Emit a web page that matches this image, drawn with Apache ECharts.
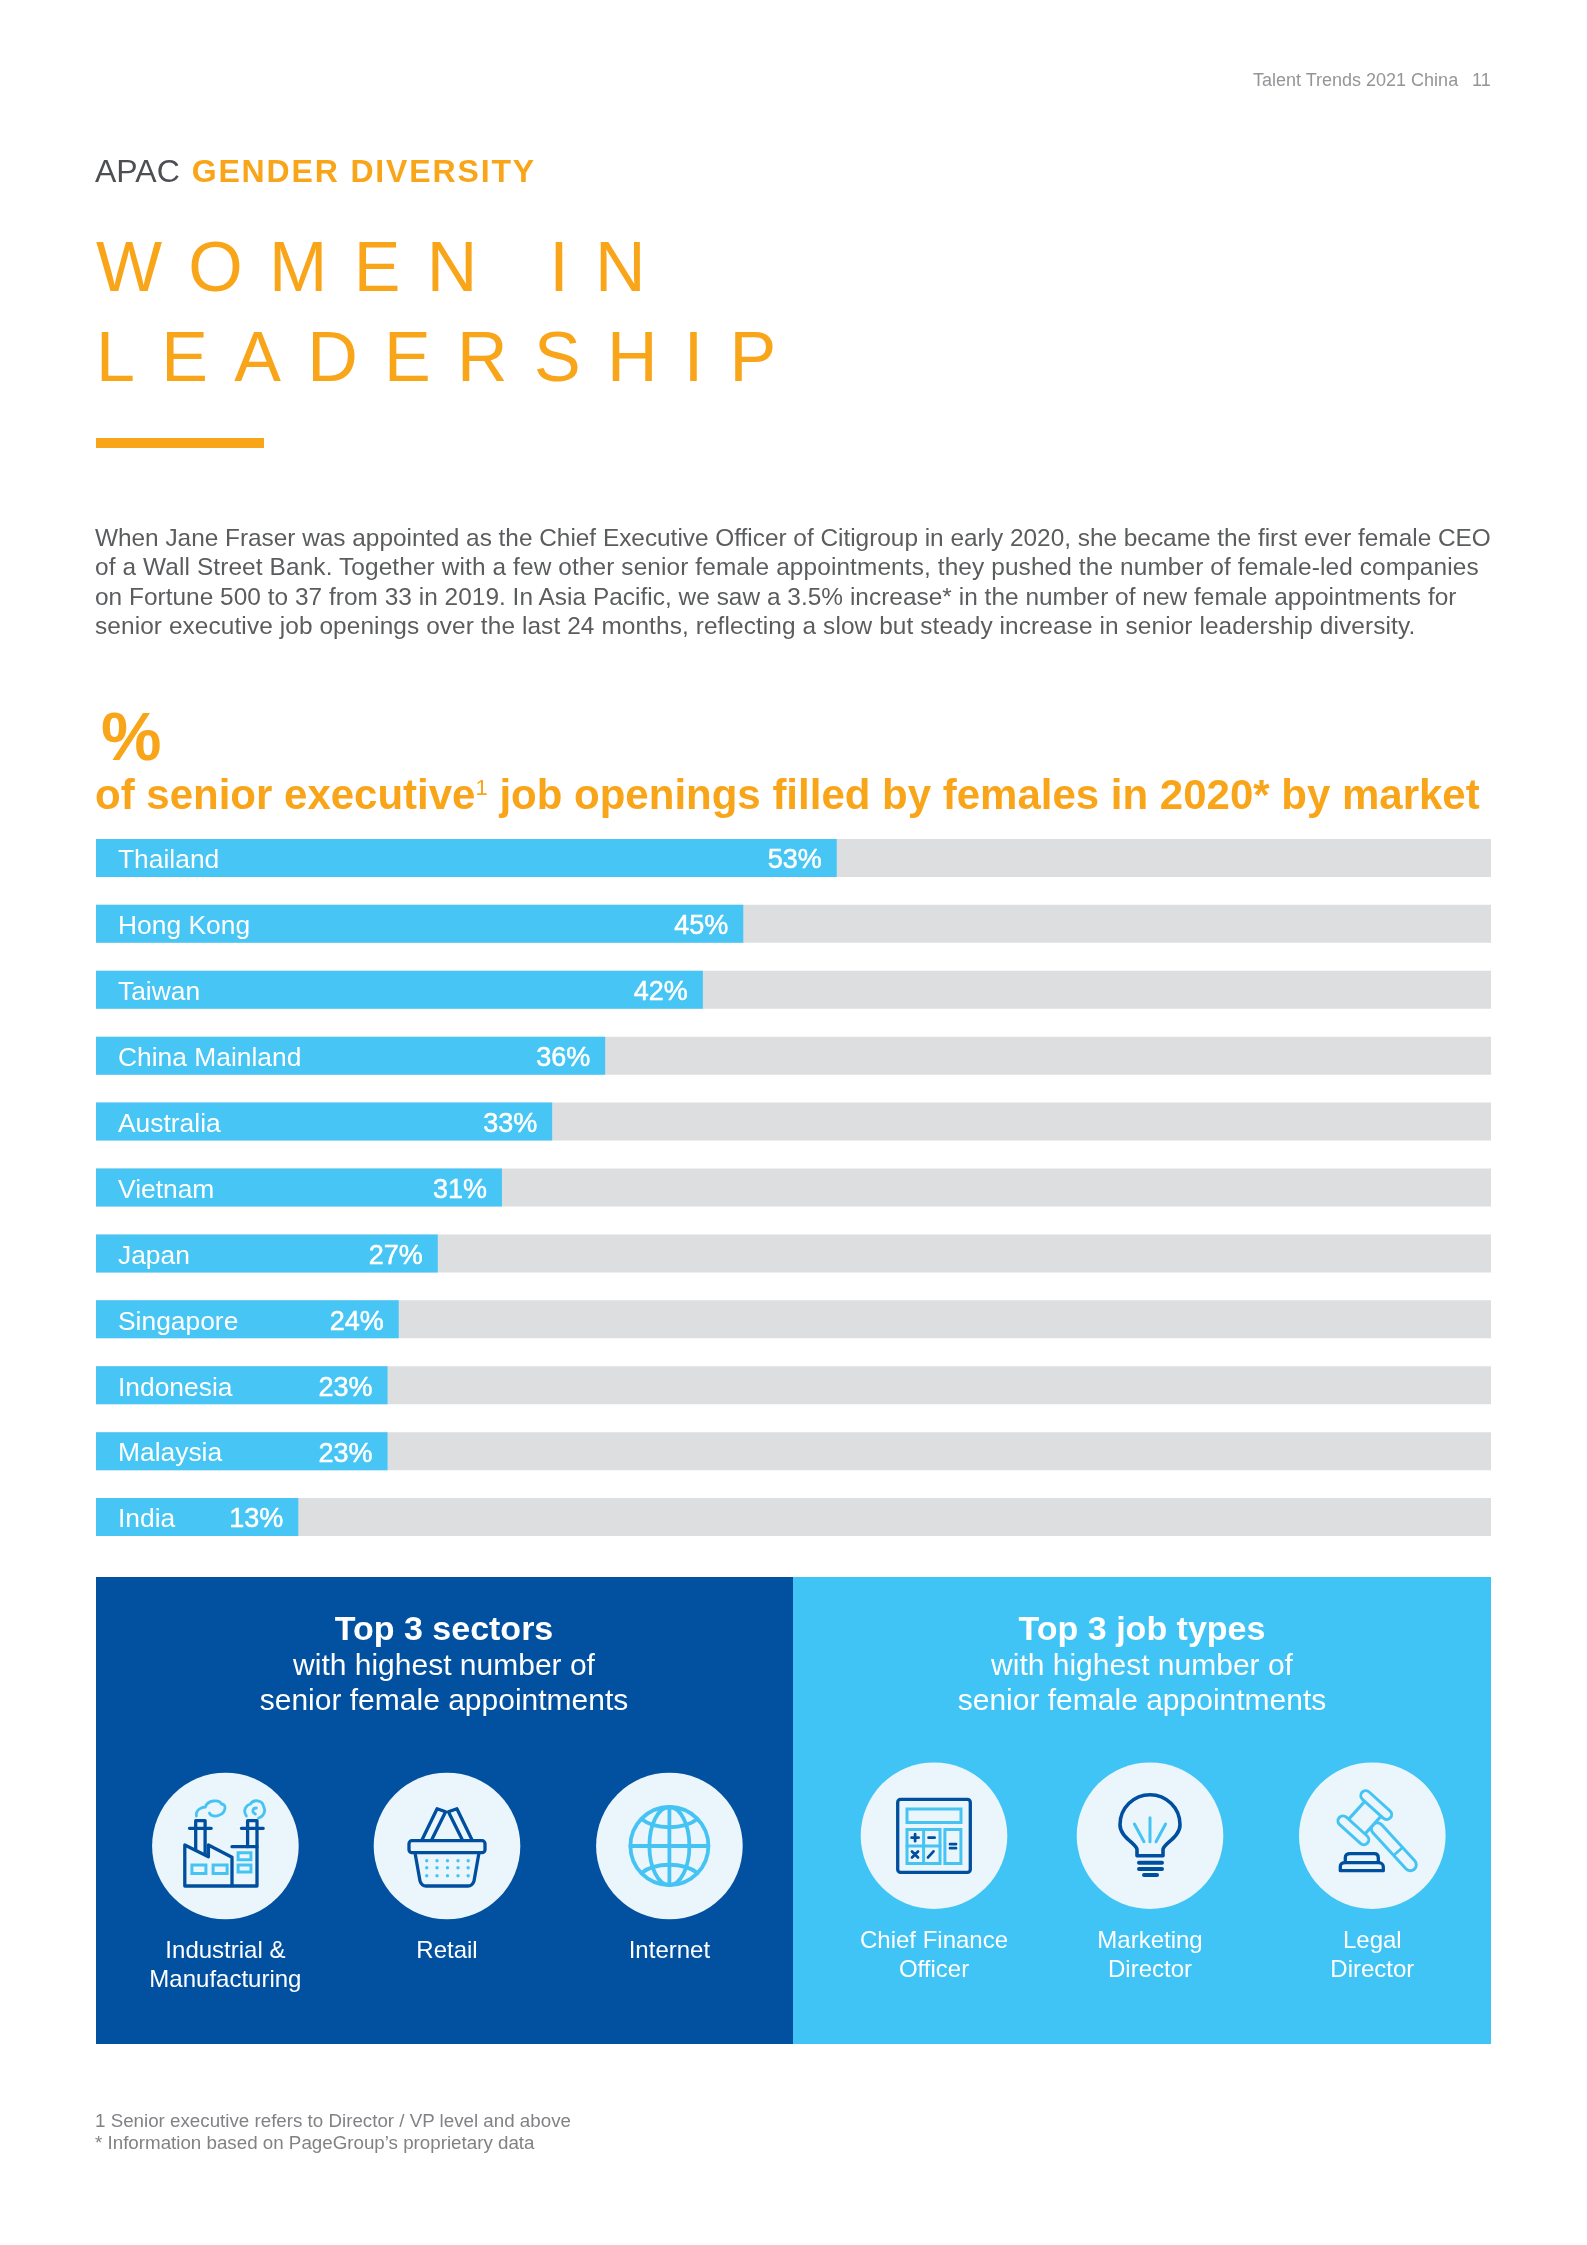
<!DOCTYPE html>
<html>
<head>
<meta charset="utf-8">
<title>Women in Leadership</title>
<script src="https://cdn.jsdelivr.net/npm/echarts@6/dist/echarts.min.js"></script>
<style>
html, body { margin: 0; padding: 0; background: #fff; }
#page { position: relative; width: 1587px; height: 2245px; overflow: hidden; font-family: "Liberation Sans", Arial, sans-serif; }
#chart { position: absolute; left: 0; top: 0; width: 1587px; height: 2245px; }
.t { position: absolute; white-space: nowrap; margin: 0; }
.orange { color: #f9a51a; }
.body { left: 95px; font-size: 24.4px; line-height: 30px; color: #5a5c5e; }
.big { left: 96px; font-size: 70px; line-height: 90px; letter-spacing: 26.3px; color: #f9a51a; }
.note { left: 95px; font-size: 18.75px; line-height: 22px; color: #808285; }
sup { font-size: 22px; font-weight: normal; line-height: 0; vertical-align: 14px; }
</style>
</head>
<body>
<div id="page">
  <div id="chart"></div>
  <div class="t" style="left:1253px;top:69px;font-size:18px;line-height:22px;color:#939598">Talent Trends 2021 China</div>
  <div class="t" style="left:1472px;top:69px;font-size:18px;line-height:22px;color:#939598">11</div>
  <div class="t" style="left:95px;top:152px;font-size:32px;line-height:38px;color:#4d4f53">APAC <b class="orange" style="letter-spacing:1.85px;margin-left:3px">GENDER DIVERSITY</b></div>
  <div class="t big" style="top:222px">WOMEN IN</div>
  <div class="t big" style="top:312px">LEADERSHIP</div>
  <div style="position:absolute;left:96px;top:438px;width:168px;height:10px;background:#f9a51a"></div>
  <div class="t body" style="top:523px;letter-spacing:-0.012px">When Jane Fraser was appointed as the Chief Executive Officer of Citigroup in early 2020, she became the first ever female CEO</div>
  <div class="t body" style="top:552px;letter-spacing:0.117px">of a Wall Street Bank. Together with a few other senior female appointments, they pushed the number of female-led companies</div>
  <div class="t body" style="top:582px;letter-spacing:0.035px">on Fortune 500 to 37 from 33 in 2019. In Asia Pacific, we saw a 3.5% increase* in the number of new female appointments for</div>
  <div class="t body" style="top:611px;letter-spacing:0.1px">senior executive job openings over the last 24 months, reflecting a slow but steady increase in senior leadership diversity.</div>
  <div class="t orange" style="left:101px;top:698px;font-size:68px;line-height:76px;font-weight:bold">%</div>
  <div class="t orange" style="left:95px;top:772px;font-size:42px;line-height:46px;font-weight:bold">of senior executive<sup>1</sup> job openings filled by females in 2020* by market</div>
  <div class="t note" style="top:2110px">1 Senior executive refers to Director / VP level and above</div>
  <div class="t note" style="top:2132px">* Information based on PageGroup’s proprietary data</div>
</div>
<script>
var categories = ['Thailand', 'Hong Kong', 'Taiwan', 'China Mainland', 'Australia', 'Vietnam', 'Japan', 'Singapore', 'Indonesia', 'Malaysia', 'India'];
// the printed labels
var shareLabels = ['53%', '45%', '42%', '36%', '33%', '31%', '27%', '24%', '23%', '23%', '13%'];
// bar lengths (% of the grey track), the printed bars do not quite follow their labels
var barLengths = [53.1, 46.4, 43.5, 36.5, 32.7, 29.1, 24.5, 21.7, 20.9, 20.9, 14.5];

var sectorNames = [['Industrial &', 'Manufacturing'], ['Retail'], ['Internet']];
var jobNames = [['Chief Finance', 'Officer'], ['Marketing', 'Director'], ['Legal', 'Director']];

var FONT = '"Liberation Sans", Arial, sans-serif';
var DARK = '#0251a1';
var LIGHT = '#45c4f4';
var DISC = '#ebf6fc';
var INK = '#004f9f';

// graphic has no plain path type, so every icon stroke gets its own registered shape
var shapeCount = 0;
function line(d, color, w) {
    var name = 'iconPath' + (shapeCount++);
    echarts.graphic.registerShape(name, echarts.graphic.extendPath(d));
    return {
        type: name,
        style: { fill: null, stroke: color, lineWidth: w || 3, lineCap: 'round', lineJoin: 'round' }
    };
}

function capsule(d, outer, inner) {
    return [line(d, LIGHT, outer), line(d, DISC, inner)];
}

function box(x, y, w, h, color, lw, r) {
    return {
        type: 'rect',
        shape: { x: x, y: y, width: w, height: h, r: r || 0 },
        style: { fill: null, stroke: color, lineWidth: lw || 3 }
    };
}

function factoryIcon() {
    return [
        line('M-29,-30 C-30,-36 -24,-39 -20,-39 C-18,-46 -6,-47 -4,-42 C2,-42 0,-33 -6,-31 C-10,-29 -15,-30 -16,-33', LIGHT, 2.8),
        line('M21,-30 C17,-36 21,-41 25,-42 C28,-47 37,-46 38,-40 C41,-35 38,-29 33,-28 M30,-32 C26,-34 27,-38 31,-38', LIGHT, 2.8),
        box(-33.5, 19, 14, 8.5, LIGHT), box(-12.3, 19, 14, 8.5, LIGHT),
        box(12.7, 6.7, 12.8, 7, LIGHT), box(12.7, 19, 12.8, 7, LIGHT),
        line('M-40.6,40 L-40.6,-1 L-17,10.7 L-17,-1 L6.6,11.3 L6.6,40 Z M6.6,0.7 L31.6,0.7 L31.6,40 L6.6,40', INK, 3.3),
        line('M-29.7,4 L-29.7,-25.3 L-20.3,-25.3 L-20.3,8 M22.2,0.7 L22.2,-25.3 L31.6,-25.3 L31.6,0.7', INK, 3.3),
        line('M-35.9,-17.7 L-14.2,-17.7 M16,-17.7 L37.8,-17.7', INK, 3.3)
    ];
}

function basketIcon() {
    var parts = [
        line('M-9.9,-37.3 L-1.4,-34.3 L-17.9,-1 L-26.4,-3.3 Z M9.9,-37.3 L1.4,-34.3 L17.9,-1 L26.4,-3.3 Z', INK, 3.3),
        { type: 'rect', shape: { x: -38, y: -5.3, width: 76, height: 12, r: 3 }, style: { fill: DISC, stroke: INK, lineWidth: 3.3 } },
        line('M-32,6.7 L-27,35 C-26,38 -24,40 -21,40 L21,40 C24,40 26,38 27,35 L32,6.7', INK, 3.3)
    ];
    [14.7, 21.7, 29.7].forEach(function (dy) {
        [-20.3, -10, 0.5, 11, 21.2].forEach(function (dx) {
            parts.push({ type: 'circle', shape: { cx: dx, cy: dy, r: 1.7 }, style: { fill: LIGHT } });
        });
    });
    return parts;
}

function globeIcon() {
    return [
        { type: 'circle', shape: { cx: 0, cy: 0, r: 39 }, style: { fill: null, stroke: LIGHT, lineWidth: 3.8 } },
        { type: 'ellipse', shape: { cx: 0, cy: 0, rx: 20, ry: 39 }, style: { fill: null, stroke: LIGHT, lineWidth: 3.8 } },
        line('M0,-39 L0,39 M-39,0 L39,0', LIGHT, 3.8),
        line('M-28,-27 C-14,-16 14,-16 28,-27 M-28,27 C-14,16 14,16 28,27', LIGHT, 3.8)
    ];
}

function calculatorIcon() {
    return [
        box(-27, -26.7, 54, 13.4, LIGHT),
        box(-27, -6.3, 33, 34, LIGHT),
        line('M-10.4,-6.3 L-10.4,27.7 M-27,10.3 L6,10.3', LIGHT, 3),
        box(10.9, -6.3, 16, 34, LIGHT),
        box(-36.3, -36.3, 72.6, 73, INK, 3.3, 3),
        line('M-22.4,2 L-15.4,2 M-18.9,-1.5 L-18.9,5.5 M-5.4,2 L0.6,2', INK, 2.8),
        line('M-22,15.7 L-16,21.7 M-16,15.7 L-22,21.7 M-0.5,15.7 L-6,21.7', INK, 2.8),
        line('M16,8.5 L22,8.5 M16,12.5 L22,12.5', INK, 2.8)
    ];
}

function bulbIcon() {
    return [
        line('M0,-18 L0,6 M-15.6,-11.7 L-6,6 M15.6,-11.7 L6,6', LIGHT, 3),
        line('M-13,20 L-13,14 C-13,8 -30,2 -30,-11 C-30,-28 -16,-41 0,-41 C16,-41 30,-28 30,-11 C30,2 13,8 13,14 L13,20 Z', INK, 3.6),
        line('M-11,27 L12,27 M-11,33.3 L12,33.3', INK, 4),
        line('M-6,39.3 L7,39.3', INK, 4)
    ];
}

function gavelIcon() {
    return [].concat(
        capsule('M5,-7 L38,29', 15, 9),
        [line('M22,19 L30,12', LIGHT, 2.8)],
        [{
            type: 'polygon',
            shape: { points: [[9.3, -20.2], [-6.9, -35], [-24.3, -15.8], [-8.1, -1]] },
            style: { fill: DISC, stroke: LIGHT, lineWidth: 3.2 }
        }],
        capsule('M-6.5,-40 L14.3,-21.2', 13, 7),
        capsule('M-29.3,-14.8 L-8.5,4', 13, 7),
        [line('M-32,35 L11,35 L11,31 C11,28 8,27 6,27 L6,22 C6,19 4,18 2,18 L-22,18 C-25,18 -27,19 -27,22 L-27,27 C-30,27 -32,28 -32,31 Z M-27,27 L6,27', INK, 3.3)]
    );
}

function textEl(str, x, y, size, weight) {
    return {
        type: 'text',
        x: x,
        y: y,
        style: { text: str, fill: '#fff', font: (weight || 'normal') + ' ' + size + 'px ' + FONT, textAlign: 'center', textVerticalAlign: 'middle' }
    };
}

function iconItem(cx, cy, parts, names, labelY) {
    var out = [
        { type: 'circle', shape: { cx: cx, cy: cy, r: 73.3 }, style: { fill: DISC } },
        { type: 'group', x: cx, y: cy, children: parts }
    ];
    names.forEach(function (n, i) {
        out.push(textEl(n, cx, labelY + i * 29, 24));
    });
    return out;
}

var panelEls = [
    { type: 'rect', shape: { x: 96, y: 1577, width: 697, height: 467 }, style: { fill: DARK } },
    { type: 'rect', shape: { x: 793, y: 1577, width: 698, height: 467 }, style: { fill: '#40c4f5' } },
    textEl('Top 3 sectors', 444, 1631, 34, 'bold'),
    textEl('with highest number of', 444, 1667, 30),
    textEl('senior female appointments', 444, 1702, 30),
    textEl('Top 3 job types', 1142, 1631, 34, 'bold'),
    textEl('with highest number of', 1142, 1667, 30),
    textEl('senior female appointments', 1142, 1702, 30)
].concat(
    iconItem(225.4, 1846, factoryIcon(), sectorNames[0], 1951),
    iconItem(447, 1846, basketIcon(), sectorNames[1], 1951),
    iconItem(669.4, 1846, globeIcon(), sectorNames[2], 1951),
    iconItem(934, 1835.7, calculatorIcon(), jobNames[0], 1941),
    iconItem(1150, 1835.7, bulbIcon(), jobNames[1], 1941),
    iconItem(1372.3, 1835.7, gavelIcon(), jobNames[2], 1941)
);

var myChart = echarts.init(document.getElementById('chart'));
myChart.setOption({
    animation: false,
    backgroundColor: 'transparent',
    textStyle: { fontFamily: FONT },
    grid: { left: 96, right: 96, top: 825, height: 725 },
    xAxis: { type: 'value', min: 0, max: 100, show: false },
    yAxis: {
        type: 'category',
        inverse: true,
        data: categories,
        z: 10,
        axisLine: { show: false },
        axisTick: { show: false },
        axisLabel: {
            inside: true,
            interval: 0,
            margin: 22,
            formatter: '{n|{value}}',
            rich: { n: { color: '#fff', fontSize: 26.4, fontFamily: FONT, padding: [6, 0, 0, 0] } }
        }
    },
    series: [{
        type: 'bar',
        data: barLengths,
        barWidth: 38,
        itemStyle: { color: '#47c5f4' },
        showBackground: true,
        backgroundStyle: { color: '#dddee0' },
        label: {
            show: true,
            position: 'insideRight',
            distance: 15,
            offset: [0, 3],
            color: '#fff',
            fontSize: 27,
            fontFamily: FONT,
            textBorderColor: '#fff',
            textBorderWidth: 0.5,
            formatter: function (p) { return shareLabels[p.dataIndex]; }
        }
    }],
    graphic: panelEls
});
</script>
</body>
</html>
